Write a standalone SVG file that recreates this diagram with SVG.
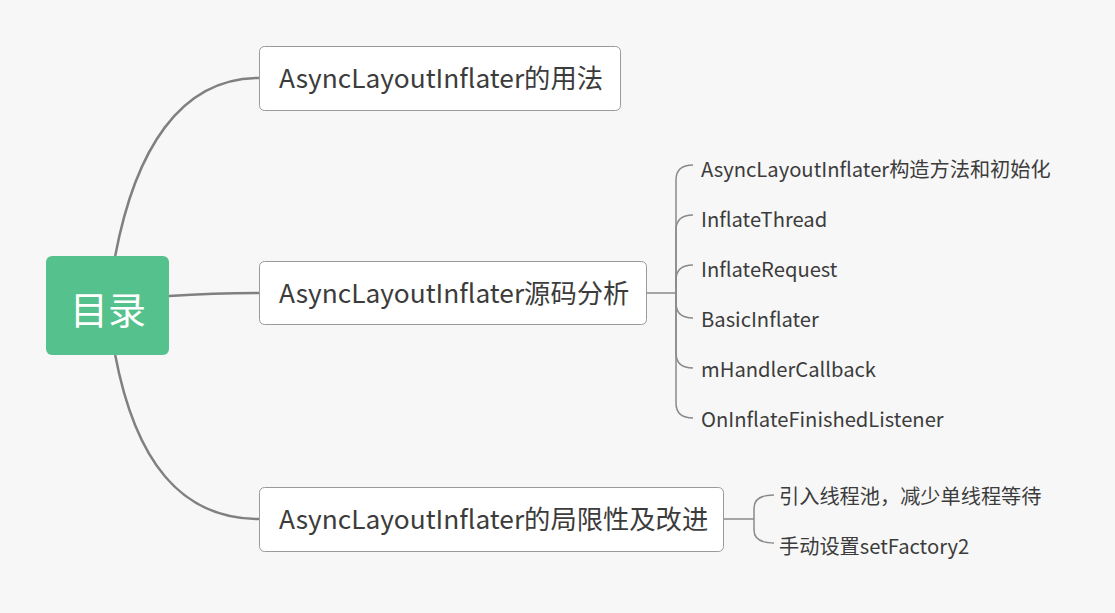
<svg xmlns="http://www.w3.org/2000/svg" width="1115" height="613" viewBox="0 0 1115 613">
<style>
.bg{fill:#f7f7f7}
.topic{fill:#ffffff;stroke:#9a9a9a;stroke-width:1}
.t1{font-family:"Noto Sans CJK SC","Noto Sans",sans-serif;font-size:26.3px;fill:#3c3c3c}
.t2{font-family:"Noto Sans CJK SC","Noto Sans",sans-serif;font-size:20.2px;fill:#3c3c3c}
.root{fill:#55c18c}
.rt{font-family:"Noto Sans CJK SC",sans-serif;font-size:38px;fill:#ffffff}
.ln{fill:none;stroke:#808080;stroke-width:2.5}
.sl{fill:none;stroke:#8a8a8a;stroke-width:1.5}
</style>
<rect class="bg" x="0" y="0" width="1115" height="613"/>
<g id="connectors">
<path class="ln" d="M115,257 C135,150 180,78 259,78"/>
<path class="ln" d="M169,296 C200,294 220,293 259,293"/>
<path class="ln" d="M115,354 C135,460 180,519 259,519"/>
<path class="sl" d="M646,293 H676"/>
<path class="sl" d="M676,293 V180 Q676,165 693,165"/>
<path class="sl" d="M676,293 V230 Q676,215 693,215"/>
<path class="sl" d="M676,293 V280 Q676,265 693,265"/>
<path class="sl" d="M676,293 V303 Q676,318 693,318"/>
<path class="sl" d="M676,293 V353 Q676,368 693,368"/>
<path class="sl" d="M676,293 V403 Q676,418 693,418"/>
<path class="sl" d="M723,519 H754"/>
<path class="sl" d="M754,519 V508 Q754,495 774,495"/>
<path class="sl" d="M754,519 V530 Q754,543 774,543"/>
</g>
<g id="root">
<rect class="root" x="46" y="256" width="123" height="99" rx="6"/>
<text class="rt" x="108" y="324" text-anchor="middle">目录</text>
</g>
<g id="n1">
<rect class="topic" x="259.5" y="46.5" width="361" height="64" rx="5"/>
<text class="t1" x="279" y="88">AsyncLayoutInflater的用法</text>
</g>
<g id="n2">
<rect class="topic" x="259.5" y="261.5" width="387" height="63" rx="5"/>
<text class="t1" x="279" y="303">AsyncLayoutInflater源码分析</text>
</g>
<g id="n3">
<rect class="topic" x="259.5" y="487.5" width="464" height="64" rx="5"/>
<text class="t1" x="279" y="529">AsyncLayoutInflater的局限性及改进</text>
</g>
<g id="c1"><text class="t2" x="701" y="177">AsyncLayoutInflater构造方法和初始化</text></g>
<g id="c2"><text class="t2" x="701" y="227">InflateThread</text></g>
<g id="c3"><text class="t2" x="701" y="277">InflateRequest</text></g>
<g id="c4"><text class="t2" x="701" y="327">BasicInflater</text></g>
<g id="c5"><text class="t2" x="701" y="377">mHandlerCallback</text></g>
<g id="c6"><text class="t2" x="701" y="427">OnInflateFinishedListener</text></g>
<g id="c7"><text class="t2" x="779" y="504">引入线程池，减少单线程等待</text></g>
<g id="c8"><text class="t2" x="779" y="554">手动设置setFactory2</text></g>
</svg>
